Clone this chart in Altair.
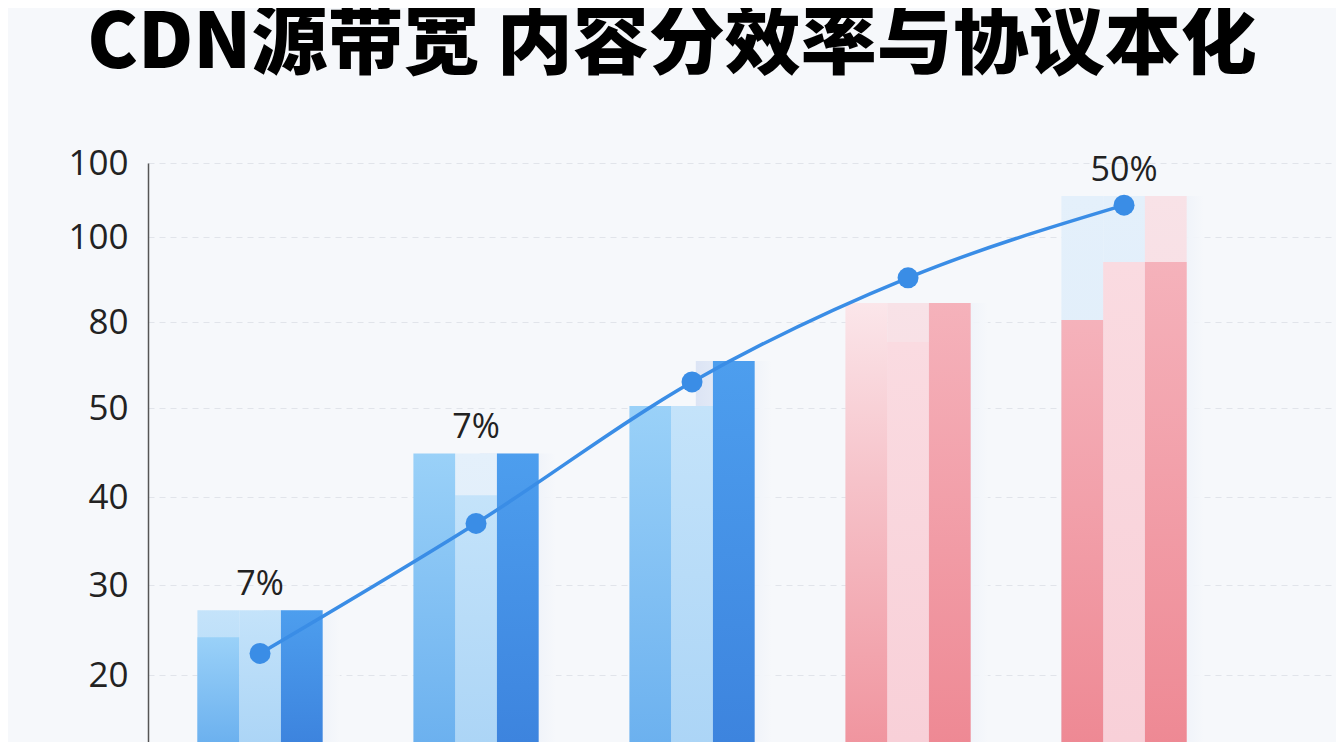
import altair as alt
import pandas as pd

TITLE = "CDN源带宽 内容分效率与协议本化"
groups = ["G1", "G2", "G3", "G4", "G5"]
subs = ["A", "B", "C"]

y_ticks = [20, 30, 40, 50, 80, 100, 120]
y_tick_labels = ["20", "30", "40", "50", "80", "100", "100"]

# bar segments per tone: group, sub-bar, top value
paleblue_group = ["G2", "G5", "G5"]
paleblue_sub = ["B", "A", "B"]
paleblue_value = [44.9, 111.1, 111.1]

lightblue2_group = ["G1", "G1", "G2", "G3"]
lightblue2_sub = ["A", "B", "B", "B"]
lightblue2_value = [27.2, 27.2, 40.2, 50.7]

lightblue_group = ["G1", "G2", "G3"]
lightblue_sub = ["A", "A", "A"]
lightblue_value = [24.2, 44.9, 50.7]

darkblue_group = ["G1", "G2", "G3"]
darkblue_sub = ["C", "C", "C"]
darkblue_value = [27.2, 44.9, 66.4]

palepink_group = ["G4", "G5"]
palepink_sub = ["B", "C"]
palepink_value = [84.5, 111.1]

pinklight_group = ["G4", "G5"]
pinklight_sub = ["B", "B"]
pinklight_value = [73.0, 94.1]

pinkfade_group = ["G4"]
pinkfade_sub = ["A"]
pinkfade_value = [84.5]

pink_group = ["G4", "G5", "G5"]
pink_sub = ["C", "A", "C"]
pink_value = [84.5, 80.5, 94.1]

line_value = [22.4, 37.0, 59.1, 90.4, 108.6]

label_group = ["G1", "G2", "G5"]
label_text = ["7%", "7%", "50%"]
label_value = [27.2, 44.9, 111.1]

# ---------------------------------------------------------------
tones = {
    "paleblue": (paleblue_group, paleblue_sub, paleblue_value),
    "palepink": (palepink_group, palepink_sub, palepink_value),
    "lightblue2": (lightblue2_group, lightblue2_sub, lightblue2_value),
    "lightblue": (lightblue_group, lightblue_sub, lightblue_value),
    "darkblue": (darkblue_group, darkblue_sub, darkblue_value),
    "pinklight": (pinklight_group, pinklight_sub, pinklight_value),
    "pinkfade": (pinkfade_group, pinkfade_sub, pinkfade_value),
    "pink": (pink_group, pink_sub, pink_value),
}
rows = []
for tone, (g, s, v) in tones.items():
    for gg, ss, vv in zip(g, s, v):
        rows.append({"group": gg, "sub": ss, "value": vv, "tone": tone})
bars = pd.DataFrame(rows)

shadow = (bars[bars["sub"] == "C"].groupby("group", as_index=False)["value"].max())
shadow["sub"] = "C"

line_df = pd.DataFrame({"group": groups, "value": line_value})
label_df = pd.DataFrame({"group": label_group, "text": label_text, "value": label_value})


def grad(c0, c1, horizontal=False, mid=None):
    stops = [alt.GradientStop(color=c0, offset=0)]
    if mid is not None:
        stops.append(alt.GradientStop(color=mid[0], offset=mid[1]))
    stops.append(alt.GradientStop(color=c1, offset=1))
    if horizontal:
        return alt.LinearGradient(gradient="linear", stops=stops, x1=0, x2=1, y1=0, y2=0)
    return alt.LinearGradient(gradient="linear", stops=stops, x1=0, x2=0, y1=0, y2=1)


fills = {
    "paleblue": grad("#e4f0fb", "#dcebf8"),
    "palepink": grad("#f8e2e7", "#f7d6dd"),
    "lightblue2": grad("#c4e3fa", "#acd5f6"),
    "lightblue": grad("#9ad1f8", "#6cb1ef"),
    "darkblue": grad("#4d9eee", "#3d84de"),
    "pinklight": grad("#fadbe1", "#f8d0d8"),
    "pinkfade": grad("#fbe6ea", "#f0959f", mid=("#f6c3ca", 0.4)),
    "pink": grad("#f5b2bb", "#ee8994"),
}

# y axis
BASE = 12.5
y_domain = [BASE] + y_ticks
y_range = [579, 512, 422, 334, 245, 159, 74, 0]
label_expr = "datum.label"
for t, l in zip(y_ticks, y_tick_labels):
    label_expr = f"datum.value == {t} ? '{l}' : ({label_expr})"

yscale = alt.Scale(domain=y_domain, range=y_range, nice=False, zero=False)
yaxis = alt.Axis(values=y_ticks, labelExpr=label_expr, title=None, ticks=False,
                 labelPadding=20, labelFont="Open Sans", labelFontSize=35,
                 labelColor="#222222", domainColor="#555555", domainWidth=1.5,
                 grid=True, gridColor="#e1e4ea", gridDash=[6, 5], gridWidth=1)
xscale = alt.Scale(domain=groups, range=[0, 1188], paddingInner=0.42,
                   paddingOuter=0.46, align=0.2486)
xoff = alt.XOffset("sub:N", scale=alt.Scale(domain=subs, paddingInner=0, paddingOuter=0))


def X():
    return alt.X("group:N", scale=xscale, axis=None)


def Y():
    return alt.Y("value:Q", scale=yscale, axis=yaxis)


layers = []
# soft shadows
layers.append(
    alt.Chart(shadow).mark_bar(width=76, xOffset=59,
                               fill=grad("#d9e2f4", "#f6f8fb", horizontal=True),
                               opacity=0.9)
    .encode(x=X(), xOffset=xoff, y=Y(), y2=alt.datum(BASE))
)
for tone in tones:
    layers.append(
        alt.Chart(bars).transform_filter(alt.datum.tone == tone)
        .mark_bar(fill=fills[tone])
        .encode(x=X(), xOffset=xoff, y=Y(), y2=alt.datum(BASE))
    )

line = alt.Chart(line_df).mark_line(interpolate="monotone", color="#3a8de6",
                                    strokeWidth=3.5).encode(x=X(), y=Y())
pts = alt.Chart(line_df).mark_circle(size=440, color="#3a8de6", opacity=1).encode(x=X(), y=Y())
txt = alt.Chart(label_df).mark_text(baseline="alphabetic", dy=-15, fontSize=34,
                                    font="Open Sans", color="#222222").encode(
    x=X(), y=Y(), text="text:N")

chart = alt.layer(*layers, line, pts, txt).properties(
    width=1188,
    height=579,
    padding={"left": 140, "top": 155, "right": 0, "bottom": 0},
    autosize=alt.AutoSizeParams(type="none"),
    background="#f6f8fb",
    title=alt.TitleParams(text=TITLE, font="Noto Sans CJK SC", fontSize=76,
                          fontWeight=900, color="#000000", anchor="middle",
                          frame="group", offset=62, dx=-70),
).configure_view(stroke=None)

chart.save("out.html", embed_options={"renderer": "svg", "actions": False})
